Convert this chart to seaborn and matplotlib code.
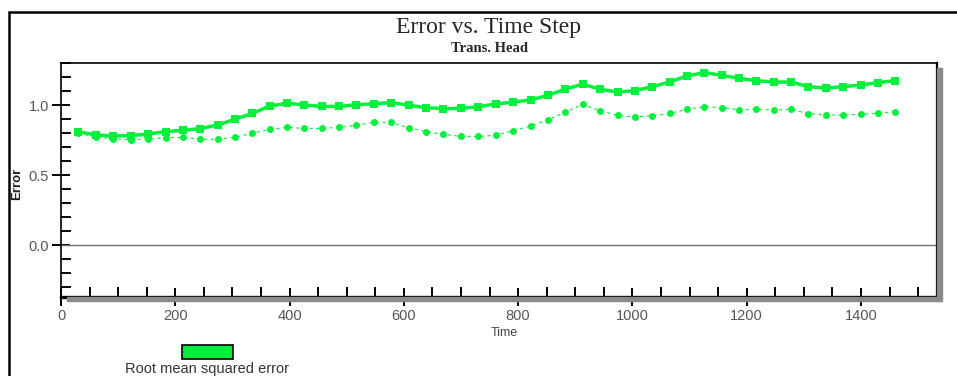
import matplotlib
matplotlib.use("Agg")
import matplotlib.pyplot as plt
import seaborn as sns
import pandas as pd
from matplotlib.patches import Rectangle
from matplotlib.ticker import MultipleLocator

# ---- data ----
time = [30, 61, 91, 122, 152, 183, 213, 243, 274, 304, 335, 365,
        396, 426, 456, 487, 517, 548, 578, 609, 639, 669, 700, 730,
        761, 791, 822, 852, 882, 913, 943, 974, 1004, 1035, 1065, 1095,
        1126, 1156, 1187, 1217, 1247, 1278, 1308, 1339, 1369, 1400, 1430, 1460]
rmse = [0.81, 0.786, 0.779, 0.781, 0.793, 0.81, 0.819, 0.831, 0.857, 0.898, 0.94, 0.993,
        1.012, 1.0, 0.99, 0.99, 1.002, 1.009, 1.017, 0.998, 0.981, 0.974, 0.976, 0.988,
        1.007, 1.021, 1.036, 1.069, 1.112, 1.15, 1.112, 1.093, 1.102, 1.131, 1.164, 1.207,
        1.231, 1.212, 1.19, 1.174, 1.164, 1.164, 1.131, 1.121, 1.131, 1.143, 1.16, 1.174]
second = [0.80, 0.769, 0.76, 0.75, 0.757, 0.767, 0.769, 0.755, 0.755, 0.769, 0.798, 0.826,
          0.84, 0.833, 0.833, 0.84, 0.855, 0.876, 0.876, 0.836, 0.81, 0.79, 0.776, 0.776,
          0.783, 0.817, 0.85, 0.893, 0.948, 1.005, 0.96, 0.926, 0.914, 0.924, 0.94, 0.969,
          0.988, 0.981, 0.967, 0.969, 0.964, 0.969, 0.938, 0.929, 0.929, 0.933, 0.943, 0.952]
x_ticks = [0, 200, 400, 600, 800, 1000, 1200, 1400]
y_ticks = [0.0, 0.5, 1.0]
title = "Error vs. Time Step"
subtitle = "Trans. Head"
legend_label = "Root mean squared error"

df = pd.DataFrame({"Time": time, "rmse": rmse, "second": second})

sns.set_style("white")
plt.rcParams["font.family"] = ["Liberation Sans", "DejaVu Sans"]

GREEN = "#00F03C"
W, H = 957, 376
fig = plt.figure(figsize=(W / 100, H / 100), dpi=100)
L, R, T, B = 61, 937, 63, 297
ax = fig.add_axes([L / W, 1 - B / H, (R - L) / W, (B - T) / H])

sns.lineplot(data=df, x="Time", y="second", ax=ax, color=GREEN, linewidth=0.8,
             linestyle=(0, (3, 3)), marker="o", markersize=5, markeredgewidth=0, zorder=3)
sns.lineplot(data=df, x="Time", y="rmse", ax=ax, color=GREEN, linewidth=2.5,
             marker="s", markersize=5.5, markeredgewidth=0, zorder=4)

ax.axhline(0.0, color="#707070", linewidth=1.0, zorder=1)
ax.set_xlim(0, 1533)
ax.set_ylim(-0.371, 1.3)
ax.set_xticks(x_ticks)
ax.set_yticks(y_ticks)
ax.set_yticklabels([f"{v:.1f}" for v in y_ticks])
ax.xaxis.set_minor_locator(MultipleLocator(50))
ax.yaxis.set_minor_locator(MultipleLocator(0.1))
ax.tick_params(which="major", direction="inout", length=13, width=1.4, color="black",
               labelsize=10.5, labelcolor="#555555", bottom=True, left=True, pad=2)
ax.tick_params(which="minor", direction="in", length=7.5, width=1.4, color="black",
               bottom=True, left=True)
for s in ax.spines.values():
    s.set_visible(True)
    s.set_color("black")
ax.spines["left"].set_linewidth(1.2)
ax.spines["top"].set_linewidth(1.2)
ax.spines["right"].set_linewidth(1.6)
ax.spines["bottom"].set_linewidth(2.4)
ax.set_xlabel("Time", fontsize=9, color="#444444")
ax.set_ylabel("Error", fontsize=9.5, fontweight="bold", color="#222222")
ax.yaxis.set_label_coords((17 - L) / (R - L), 0.483)
ax.xaxis.set_label_coords((504 - L) / (R - L), -(333 - B) / (B - T))
ax.xaxis.label.set_va("center")
ax.yaxis.label.set_va("center")

# shadow of plot box
fig.patches.append(Rectangle((R / W, 1 - 301 / H), 4.5 / W, (301 - 68) / H,
                             transform=fig.transFigure, color="#8a8a8a", zorder=0))
fig.patches.append(Rectangle((67 / W, 1 - 301 / H), (941 - 67) / W, 4 / H,
                             transform=fig.transFigure, color="#8a8a8a", zorder=0))

# outer frame
fig.patches.append(Rectangle((9 / W, -0.05), 1.1, 1 - 12 / H + 0.05, transform=fig.transFigure,
                             fill=False, edgecolor="black", linewidth=1.8, zorder=0))

fig.text(489 / W, 1 - 28 / H, title, ha="center", va="center", fontsize=17,
         family=["Liberation Serif", "DejaVu Serif"])
fig.text(490 / W, 1 - 48 / H, subtitle, ha="center", va="center", fontsize=10.5,
         fontweight="bold", family=["Liberation Serif", "DejaVu Serif"])

# legend
fig.patches.append(Rectangle((182 / W, 1 - 359 / H), 51 / W, 14 / H, transform=fig.transFigure,
                             facecolor=GREEN, edgecolor="black", linewidth=1.2))
fig.text(207 / W, 1 - 369 / H, legend_label, ha="center", va="center", fontsize=10.5,
         color="#333333")

fig.savefig("out.png", dpi=100)
